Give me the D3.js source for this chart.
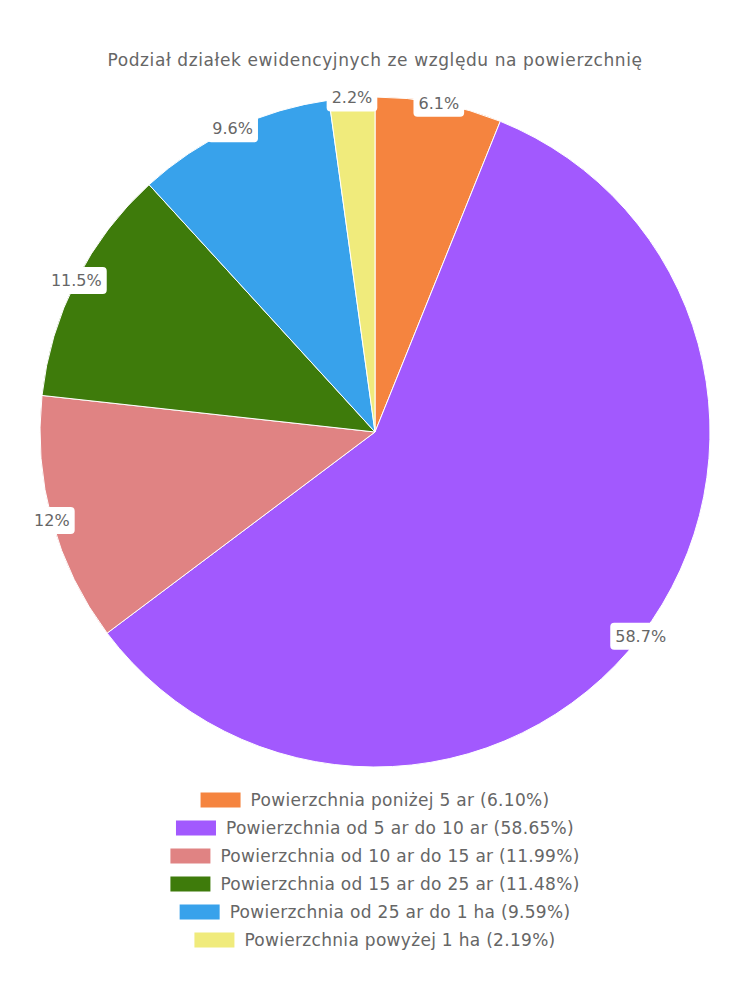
<!DOCTYPE html>
<html>
<head>
<meta charset="utf-8">
<script src="https://cdn.jsdelivr.net/npm/d3@7"></script>
<style>
  body { margin: 0; background: #fff; }
  text { font-family: "DejaVu Sans", sans-serif; fill: #666; }
</style>
</head>
<body>
<div class="chart"></div>
<script>
var categories = [
  "Powierzchnia poniżej 5 ar",
  "Powierzchnia od 5 ar do 10 ar",
  "Powierzchnia od 10 ar do 15 ar",
  "Powierzchnia od 15 ar do 25 ar",
  "Powierzchnia od 25 ar do 1 ha",
  "Powierzchnia powyżej 1 ha"
];
var values = [6.10, 58.65, 11.99, 11.48, 9.59, 2.19];
var sliceLabels = ["6.1%", "58.7%", "12%", "11.5%", "9.6%", "2.2%"];
var colors = ["#F5843F", "#A259FE", "#E08383", "#3E7B0B", "#38A2EB", "#F0EB7C"];

var width = 750;
var height = 1000;
var cx = 375, cy = 432, radius = 335;

var svg = d3.select(".chart").append("svg")
  .attr("width", width)
  .attr("height", height);

svg.append("text")
  .attr("x", width / 2)
  .attr("y", 66)
  .attr("text-anchor", "middle")
  .style("font-size", "17px")
  .style("letter-spacing", "0.6px")
  .text("Podział działek ewidencyjnych ze względu na powierzchnię");

var pie = d3.pie().sort(null).value(d => d);
var arcs = pie(values);

var arc = d3.arc().innerRadius(0).outerRadius(radius);
var edgeArc = d3.arc().innerRadius(radius).outerRadius(radius);

var g = svg.append("g")
  .attr("transform", "translate(" + cx + "," + cy + ")");

g.selectAll("path")
  .data(arcs)
  .enter().append("path")
  .attr("d", arc)
  .attr("fill", (d, i) => colors[i])
  .attr("stroke", "#fff")
  .attr("stroke-width", 1);

var labels = g.selectAll(".lbl")
  .data(arcs)
  .enter().append("g")
  .attr("class", "lbl")
  .attr("transform", d => "translate(" + edgeArc.centroid(d) + ")");

labels.append("text")
  .attr("text-anchor", "middle")
  .attr("dy", "0.35em")
  .style("font-size", "16px")
  .text((d, i) => sliceLabels[i]);

labels.each(function () {
  var t = d3.select(this).select("text");
  var b = t.node().getBBox();
  d3.select(this).insert("rect", "text")
    .attr("x", b.x - 5)
    .attr("y", b.y - 4)
    .attr("width", b.width + 10)
    .attr("height", b.height + 8)
    .attr("rx", 4)
    .attr("fill", "#fff");
});

// legend
var legend = svg.append("g");
var rows = legend.selectAll(".row")
  .data(categories)
  .enter().append("g")
  .attr("class", "row")
  .attr("transform", (d, i) => "translate(0," + (800 + i * 28) + ")");

rows.append("text")
  .attr("x", 0)
  .attr("dy", "0.35em")
  .style("font-size", "17px")
  .style("letter-spacing", "0.3px")
  .text((d, i) => d + " (" + values[i].toFixed(2) + "%)");

rows.each(function (d, i) {
  var row = d3.select(this);
  var w = row.select("text").node().getComputedTextLength();
  var total = 40 + 10 + w;
  var x0 = width / 2 - total / 2;
  row.insert("rect", "text")
    .attr("x", x0)
    .attr("y", -7.5)
    .attr("width", 40)
    .attr("height", 15)
    .attr("fill", colors[i]);
  row.select("text").attr("x", x0 + 50);
});
</script>
</body>
</html>
